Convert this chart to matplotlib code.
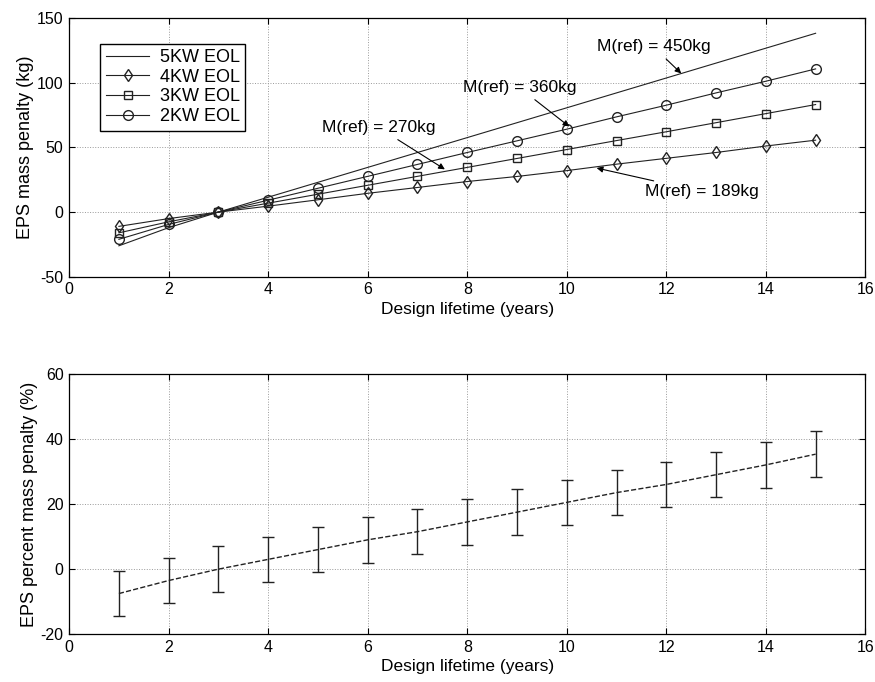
import numpy as np
import matplotlib
matplotlib.use('Agg')
import matplotlib.pyplot as plt

plt.rcParams['font.family'] = ['Liberation Sans', 'DejaVu Sans']
plt.rcParams['axes.unicode_minus'] = False

years = [1, 2, 3, 4, 5, 6, 7, 8, 9, 10, 11, 12, 13, 14, 15]
kw5 = [-26, -12, 0, 11.5, 23, 34.5, 46, 57.5, 69, 80.5, 92, 103.5, 115, 126.5, 138]
kw2 = [-21, -9.5, 0, 9.2, 18.4, 27.6, 36.8, 46, 55, 64, 73.5, 82.5, 92, 101, 110.5]
kw3 = [-16, -7.5, 0, 6.9, 13.8, 20.7, 27.6, 34.5, 41.4, 48.3, 55.2, 62, 69, 76, 83]
kw4 = [-11, -5, 0, 4.6, 9.5, 14.5, 19, 23.6, 27.5, 32, 37, 41.5, 46, 51, 55.5]

pct_mean = [-7.5, -3.5, 0, 3, 6, 9, 11.5, 14.5, 17.5, 20.5, 23.5, 26, 29, 32, 35.3]
pct_err = [7, 7, 7, 7, 7, 7, 7, 7, 7, 7, 7, 7, 7, 7, 7]

fig = plt.figure(figsize=(8.75, 6.82), dpi=100)
ax1 = fig.add_axes([0.079, 0.594, 0.910, 0.380])
ax2 = fig.add_axes([0.079, 0.070, 0.910, 0.382])

lc = '#222222'
ax1.plot(years, kw5, '-', color=lc, lw=0.8, label='5KW EOL')
ax1.plot(years, kw4, '-d', color=lc, lw=0.8, mfc='none', ms=6, label='4KW EOL')
ax1.plot(years, kw3, '-s', color=lc, lw=0.8, mfc='none', ms=6, label='3KW EOL')
ax1.plot(years, kw2, '-o', color=lc, lw=0.8, mfc='none', ms=7, label='2KW EOL')

ax1.set_xlim(0, 16)
ax1.set_ylim(-50, 150)
ax1.set_xticks(range(0, 17, 2))
ax1.set_yticks([-50, 0, 50, 100, 150])
ax1.set_ylabel('EPS mass penalty (kg)', fontsize=13, labelpad=2)
ax1.set_xlabel('Design lifetime (years)', fontsize=12.5, labelpad=3)
ax1.legend(loc='upper left', bbox_to_anchor=(0.028, 0.935), fontsize=13,
           fancybox=False, edgecolor='k', framealpha=1, handlelength=2.4,
           borderpad=0.3, labelspacing=0.15, handletextpad=0.6)

arr = dict(arrowstyle='-|>', color='k', lw=0.8, mutation_scale=9, shrinkA=2, shrinkB=0)
ax1.annotate('M(ref) = 450kg', xy=(12.3, 107), xytext=(11.74, 127.6),
             ha='center', va='center', fontsize=12.5, arrowprops=arr)
ax1.annotate('M(ref) = 360kg', xy=(10.05, 66), xytext=(9.05, 96),
             ha='center', va='center', fontsize=12.5, arrowprops=arr)
ax1.annotate('M(ref) = 270kg', xy=(7.55, 33), xytext=(6.23, 65),
             ha='center', va='center', fontsize=12.5, arrowprops=arr)
ax1.annotate('M(ref) = 189kg', xy=(10.6, 34), xytext=(12.72, 15.7),
             ha='center', va='center', fontsize=12.5, arrowprops=arr)

ax2.errorbar(years, pct_mean, yerr=pct_err, fmt='--', color=lc, lw=1.0,
             ecolor=lc, elinewidth=1.0, capsize=4, capthick=1.0)
ax2.set_xlim(0, 16)
ax2.set_ylim(-20, 60)
ax2.set_xticks(range(0, 17, 2))
ax2.set_yticks([-20, 0, 20, 40, 60])
ax2.set_ylabel('EPS percent mass penalty (%)', fontsize=13, labelpad=2)
ax2.set_xlabel('Design lifetime (years)', fontsize=12.5, labelpad=3)

for ax in (ax1, ax2):
    ax.grid(True, linestyle=':', color='#999999', lw=0.7)
    ax.tick_params(direction='in', top=True, right=True, labelsize=11.5, length=4, pad=4)
    for s in ax.spines.values():
        s.set_linewidth(0.9)

fig.savefig('out.png', dpi=100)
